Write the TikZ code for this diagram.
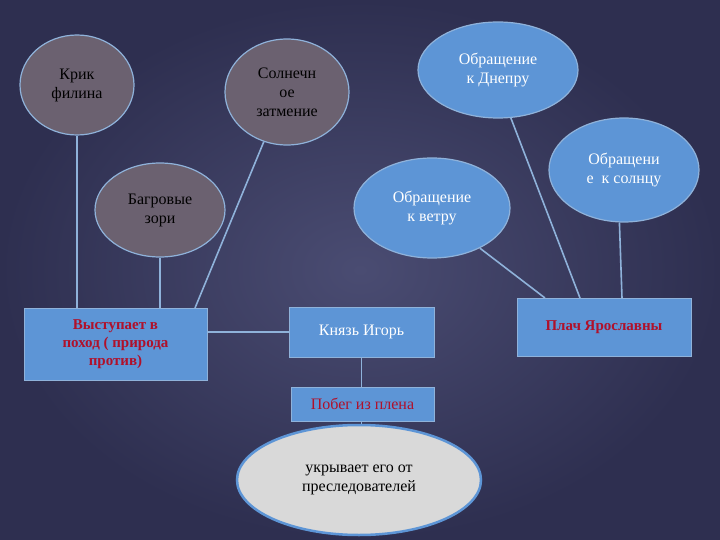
\documentclass[tikz,border=0pt]{standalone}
\usepackage{fontspec}
\setmainfont{Liberation Serif}
\usetikzlibrary{shapes.geometric}
\definecolor{bgc}{HTML}{2E2F50}
\definecolor{bgin}{HTML}{4A4C72}
\definecolor{ln}{HTML}{8FB2DA}
\definecolor{grayp}{HTML}{6B6170}
\definecolor{bl}{HTML}{5D95D6}
\definecolor{rd}{HTML}{B0102A}
\definecolor{lg}{HTML}{D9D9D9}
\begin{document}
\begin{tikzpicture}[x=1pt,y=-1pt,
  ell/.style={ellipse,draw=ln,line width=1.2pt,inner sep=0pt,align=center,font=\fontsize{16}{19}\selectfont},
  grayell/.style={ell,fill=grayp,text=black},
  blueell/.style={ell,fill=bl,text=white},
  bx/.style={rectangle,draw=ln,fill=bl,line width=1pt,align=center,inner sep=2pt,font=\fontsize{16}{19}\selectfont},
  conn/.style={draw=ln,line width=1.6pt}]
\shade[inner color=bgin,outer color=bgc] (0,0) rectangle (720,540);
\useasboundingbox (0,0) rectangle (720,540);
\node[grayell,minimum width=114,minimum height=100] (krik) at (77,85) {Крик\\филина};
\node[grayell,minimum width=124,minimum height=106] (soln) at (287,92) {Солнечн\\ое\\затмение};
\node[blueell,minimum width=160,minimum height=96] (dnepr) at (498,70) {Обращение\\к Днепру};
\node[blueell,minimum width=150,minimum height=104] (sol) at (624,170) {Обращени\\е\enspace к солнцу};
\node[blueell,minimum width=156,minimum height=100] (veter) at (432,208) {Обращение\\к ветру};
\node[grayell,minimum width=130,minimum height=94] (zori) at (160,210) {Багровые\\зори};
\node[bx,minimum width=183,minimum height=72,text=rd,font=\bfseries\fontsize{15}{18}\selectfont] (vyst) at (115.5,344) {Выступает в\\поход ( природа\\против)};
\node[bx,minimum width=145,minimum height=50,text=white] (knyaz) at (361.5,332) {Князь Игорь};
\node[bx,minimum width=174,minimum height=58,text=rd,font=\bfseries\fontsize{15}{18}\selectfont] (plach) at (604,327) {Плач Ярославны};
\node[bx,minimum width=143,minimum height=34,text=rd] (pobeg) at (362.5,404) {Побег из плена};
\node[ell,fill=lg,draw=bl,line width=2.5pt,minimum width=244,minimum height=110,text=black] (ukr) at (359,480) {укрывает его от\\преследователей};
\draw[conn] (krik.south) -- (krik.south|-vyst.north);
\draw[conn] (zori.south) -- (zori.south|-vyst.north);
\draw[conn] (soln.-115) -- (195,308);
\draw[conn] (vyst.east|-knyaz.west) -- (knyaz.west);
\draw[conn] (dnepr.-75) -- (580,298);
\draw[conn] (sol.-95) -- (622,298);
\draw[conn] (veter.-40) -- (545,298);
\draw[conn] (knyaz.south) -- (knyaz.south|-pobeg.north);
\draw[conn] (knyaz.south|-pobeg.south) -- (knyaz.south|-ukr.north);
\end{tikzpicture}
\end{document}
